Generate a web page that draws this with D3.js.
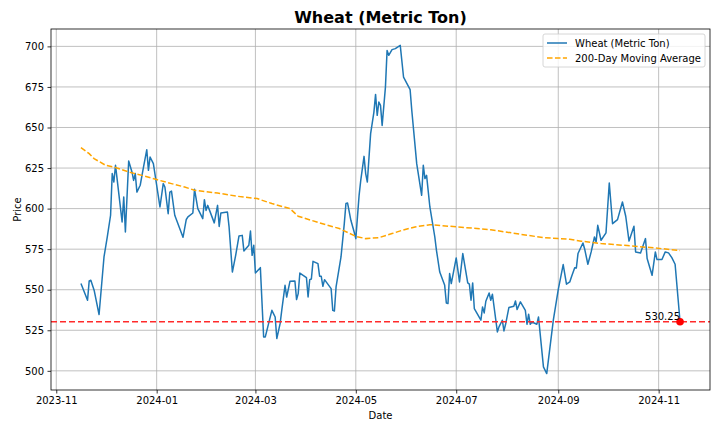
<!DOCTYPE html>
<html>
<head>
<meta charset="utf-8">
<script src="https://cdn.jsdelivr.net/npm/d3@7"></script>
<style>
    body { margin: 0; background: #fff; }
    text { font-family: "DejaVu Sans", sans-serif; }
    .grid line { stroke: #b0b0b0; stroke-width: 0.8; }
</style>
</head>
<body>
<div id="chart"></div>
<script>

// price series
const priceDates = [
    "2023-11-16","2023-11-20","2023-11-21","2023-11-22","2023-11-24","2023-11-27","2023-11-30","2023-12-02","2023-12-04","2023-12-05",
    "2023-12-06","2023-12-07","2023-12-11","2023-12-12","2023-12-13","2023-12-15","2023-12-17","2023-12-18","2023-12-19","2023-12-20",
    "2023-12-22","2023-12-24","2023-12-26","2023-12-27","2023-12-28","2023-12-30","2024-01-01","2024-01-03","2024-01-05","2024-01-06",
    "2024-01-08","2024-01-09","2024-01-10","2024-01-12","2024-01-17","2024-01-19","2024-01-20","2024-01-23","2024-01-24","2024-01-26",
    "2024-01-29","2024-01-30","2024-01-31","2024-02-01","2024-02-05","2024-02-07","2024-02-08","2024-02-09","2024-02-13","2024-02-14",
    "2024-02-16","2024-02-18","2024-02-20","2024-02-22","2024-02-23","2024-02-26","2024-02-27","2024-02-28","2024-02-29","2024-03-01",
    "2024-03-04","2024-03-06","2024-03-07","2024-03-09","2024-03-11","2024-03-13","2024-03-14","2024-03-16","2024-03-17","2024-03-19",
    "2024-03-20","2024-03-22","2024-03-25","2024-03-26","2024-03-27","2024-03-28","2024-04-01","2024-04-02","2024-04-03","2024-04-04",
    "2024-04-05","2024-04-08","2024-04-09","2024-04-10","2024-04-11","2024-04-12","2024-04-16","2024-04-17","2024-04-18","2024-04-19",
    "2024-04-22","2024-04-24","2024-04-25","2024-04-26","2024-04-28","2024-04-30","2024-05-01","2024-05-02","2024-05-03","2024-05-04",
    "2024-05-06","2024-05-07","2024-05-08","2024-05-10","2024-05-12","2024-05-13","2024-05-14","2024-05-15","2024-05-16","2024-05-17",
    "2024-05-19","2024-05-20","2024-05-21","2024-05-23","2024-05-25","2024-05-28","2024-05-30","2024-06-03","2024-06-04","2024-06-07",
    "2024-06-10","2024-06-11","2024-06-12","2024-06-13","2024-06-15","2024-06-18","2024-06-19","2024-06-21","2024-06-24","2024-06-25",
    "2024-06-26","2024-06-27","2024-06-28","2024-07-01","2024-07-03","2024-07-05","2024-07-08","2024-07-09","2024-07-10","2024-07-11",
    "2024-07-12","2024-07-16","2024-07-17","2024-07-18","2024-07-19","2024-07-21","2024-07-22","2024-07-23","2024-07-26","2024-07-27",
    "2024-07-29","2024-07-30","2024-07-31","2024-08-02","2024-08-05","2024-08-06","2024-08-07","2024-08-09","2024-08-12","2024-08-13",
    "2024-08-14","2024-08-15","2024-08-16","2024-08-19","2024-08-20","2024-08-23","2024-08-25","2024-08-27","2024-08-29","2024-09-01",
    "2024-09-04","2024-09-06","2024-09-08","2024-09-09","2024-09-11","2024-09-12","2024-09-13","2024-09-16","2024-09-17","2024-09-19",
    "2024-09-21","2024-09-23","2024-09-24","2024-09-25","2024-09-27","2024-09-30","2024-10-02","2024-10-04","2024-10-07","2024-10-10",
    "2024-10-12","2024-10-14","2024-10-17","2024-10-18","2024-10-21","2024-10-24","2024-10-25","2024-10-28","2024-10-30","2024-10-31",
    "2024-11-03","2024-11-05","2024-11-07","2024-11-09","2024-11-11","2024-11-14"
];
const priceValues = [
    553.8,543.5,555.4,555.8,549.7,534.7,570.2,582.5,595.9,621.6,
    616.4,626.7,591.8,607.2,585.6,629.3,622.6,617.4,621.6,610.2,
    614.4,625.6,636.3,623.6,631.8,627.7,614.4,601.0,615.4,613.3,
    596.9,610.2,610.8,595.9,582.3,593.3,594.9,597.3,612.0,600.0,
    593.8,605.5,598.9,602.0,591.2,602.0,589.0,597.3,597.9,588.7,
    560.9,571.2,583.1,583.5,573.9,577.4,586.2,571.2,577.4,560.3,
    563.6,520.9,520.9,529.1,537.3,533.2,519.9,529.1,537.3,552.7,
    545.5,555.2,555.4,543.9,547.6,560.3,557.5,545.5,556.2,556.6,
    567.5,566.1,558.3,558.3,552.1,556.2,550.7,537.3,536.9,551.7,
    570.2,590.7,603.1,603.4,592.8,585.6,581.5,594.9,608.2,617.4,
    632.2,621.6,616.4,646.2,659.5,670.4,657.5,665.7,663.6,651.3,
    674.9,697.5,694.5,698.0,698.6,700.6,681.1,673.3,660.6,627.7,
    608.2,626.7,618.5,620.5,601.0,582.5,574.3,560.9,552.7,541.8,
    541.5,560.0,553.8,569.6,554.8,572.3,554.2,553.4,543.5,554.2,
    538.4,531.2,539.4,535.7,542.9,548.0,543.5,547.2,524.0,527.1,
    531.2,524.6,528.7,539.0,539.8,543.1,537.8,542.5,537.3,528.7,
    534.9,528.7,530.1,528.7,533.2,502.4,498.3,514.8,531.2,550.0,
    565.5,553.4,554.8,557.9,563.6,563.4,572.3,578.8,575.3,565.7,
    573.3,582.5,579.4,589.7,580.5,585.0,615.8,590.7,593.2,604.1,
    595.3,580.0,589.1,573.3,572.7,581.5,569.2,558.9,573.3,568.6,
    568.6,573.3,572.7,569.8,565.7,530.25
];

// 200-day moving average
const maDates = [
    "2023-11-16","2023-11-21","2023-11-24","2023-12-01","2023-12-07","2023-12-15","2023-12-23","2024-01-01","2024-01-10","2024-01-18",
    "2024-01-24","2024-02-07","2024-02-19","2024-03-02","2024-03-11","2024-03-22","2024-03-27","2024-04-09","2024-04-21","2024-05-01",
    "2024-05-07","2024-05-15","2024-05-23","2024-05-29","2024-06-06","2024-06-15","2024-07-02","2024-07-22","2024-08-09","2024-08-23",
    "2024-09-01","2024-09-08","2024-09-15","2024-09-27","2024-10-13","2024-10-27","2024-11-14"
];
const maValues = [
    637.6,633.9,630.8,626.7,625.3,622.6,620.5,617.9,615.4,613.3,
    611.3,609.6,607.6,606.2,603.1,600.0,595.3,591.2,587.7,582.9,
    581.5,582.1,584.6,586.6,588.7,590.1,588.7,587.0,584.2,582.1,
    581.5,581.1,579.9,578.5,577.2,576.0,574.2
];

const yTicks = [500, 525, 550, 575, 600, 625, 650, 675, 700];
const lastPrice = 530.25;

class LineVis {

    constructor(parentElement) {
        this.parentElement = parentElement;
        this.parseDate = d3.timeParse("%Y-%m-%d");
        this.initVis();
    }

    initVis() {
        let vis = this;

        vis.margin = {top: 29, right: 10, bottom: 42, left: 51};
        vis.width = 720 - vis.margin.left - vis.margin.right;
        vis.height = 432 - vis.margin.top - vis.margin.bottom;

        vis.svgRoot = d3.select("#" + vis.parentElement).append("svg")
            .attr("width", 720)
            .attr("height", 432);

        vis.svg = vis.svgRoot.append("g")
            .attr("transform", `translate(${vis.margin.left}, ${vis.margin.top})`);

        vis.svg.append("clipPath")
            .attr("id", "plotClip")
            .append("rect")
            .attr("width", vis.width)
            .attr("height", vis.height);

        // title
        vis.svgRoot.append("text")
            .attr("x", vis.margin.left + vis.width / 2)
            .attr("y", 23)
            .attr("text-anchor", "middle")
            .attr("font-size", 16)
            .attr("font-weight", "bold")
            .text("Wheat (Metric Ton)");

        vis.wrangleData();
    }

    wrangleData() {
        let vis = this;

        vis.prices = priceDates.map((d, i) => ({date: vis.parseDate(d), value: priceValues[i]}));
        vis.ma = maDates.map((d, i) => ({date: vis.parseDate(d), value: maValues[i]}));

        vis.updateVis();
    }

    updateVis() {
        let vis = this;

        // matplotlib style 5% padding on both axes
        let xExt = d3.extent(vis.prices, d => d.date);
        let xPad = (xExt[1] - xExt[0]) * 0.05;
        vis.xScale = d3.scaleTime()
            .domain([new Date(+xExt[0] - xPad), new Date(+xExt[1] + xPad)])
            .range([0, vis.width]);

        let yExt = d3.extent(vis.prices.concat(vis.ma), d => d.value);
        let yPad = (yExt[1] - yExt[0]) * 0.05;
        vis.yScale = d3.scaleLinear()
            .domain([yExt[0] - yPad, yExt[1] + yPad])
            .range([vis.height, 0]);

        let xTicks = d3.timeMonth.every(2).range(vis.xScale.domain()[0], vis.xScale.domain()[1]);

        // grid
        vis.svg.append("g")
            .attr("class", "grid")
            .selectAll("line").data(xTicks).enter().append("line")
            .attr("x1", d => vis.xScale(d)).attr("x2", d => vis.xScale(d))
            .attr("y1", 0).attr("y2", vis.height);

        vis.svg.append("g")
            .attr("class", "grid")
            .selectAll("line").data(yTicks).enter().append("line")
            .attr("x1", 0).attr("x2", vis.width)
            .attr("y1", d => vis.yScale(d)).attr("y2", d => vis.yScale(d));

        // axes
        vis.xAxisGroup = vis.svg.append("g")
            .attr("class", "axis x-axis")
            .attr("transform", `translate(0, ${vis.height})`)
            .call(d3.axisBottom(vis.xScale)
                .tickValues(xTicks)
                .tickFormat(d3.timeFormat("%Y-%m"))
                .tickSize(3.5)
                .tickPadding(3.5)
                .tickSizeOuter(0));

        vis.yAxisGroup = vis.svg.append("g")
            .attr("class", "axis y-axis")
            .call(d3.axisLeft(vis.yScale)
                .tickValues(yTicks)
                .tickSize(3.5)
                .tickPadding(3.5)
                .tickSizeOuter(0));

        vis.svg.selectAll(".axis .domain").remove();
        vis.svg.selectAll(".axis line").attr("stroke", "#000").attr("stroke-width", 0.8);
        vis.svg.selectAll(".axis text")
            .attr("font-family", "DejaVu Sans")
            .attr("font-size", 10)
            .attr("fill", "#000");

        // axis labels
        vis.svg.append("text")
            .attr("x", vis.width / 2)
            .attr("y", vis.height + 29)
            .attr("text-anchor", "middle")
            .attr("font-size", 10)
            .text("Date");

        vis.svg.append("text")
            .attr("transform", `translate(${-30}, ${vis.height / 2}) rotate(-90)`)
            .attr("text-anchor", "middle")
            .attr("font-size", 10)
            .text("Price");

        let plotG = vis.svg.append("g").attr("clip-path", "url(#plotClip)");

        let line = d3.line()
            .x(d => vis.xScale(d.date))
            .y(d => vis.yScale(d.value));

        // price line
        plotG.append("path")
            .datum(vis.prices)
            .attr("fill", "none")
            .attr("stroke", "#1f77b4")
            .attr("stroke-width", 1.5)
            .attr("stroke-linejoin", "round")
            .attr("d", line);

        // moving average
        plotG.append("path")
            .datum(vis.ma)
            .attr("fill", "none")
            .attr("stroke", "orange")
            .attr("stroke-width", 1.5)
            .attr("stroke-dasharray", "5.55,2.4")
            .attr("d", line);

        // last price line
        plotG.append("line")
            .attr("x1", 0).attr("x2", vis.width)
            .attr("y1", vis.yScale(lastPrice)).attr("y2", vis.yScale(lastPrice))
            .attr("stroke", "#ff2a2a")
            .attr("stroke-width", 1.7)
            .attr("stroke-dasharray", "6,3");

        let last = vis.prices[vis.prices.length - 1];
        plotG.append("circle")
            .attr("cx", vis.xScale(last.date))
            .attr("cy", vis.yScale(last.value))
            .attr("r", 3.8)
            .attr("fill", "red");

        vis.svg.append("text")
            .attr("x", vis.xScale(last.date))
            .attr("y", vis.yScale(last.value) - 2)
            .attr("text-anchor", "end")
            .attr("font-size", 10)
            .text(d3.format(".2f")(lastPrice));

        // spines
        vis.svg.append("rect")
            .attr("width", vis.width)
            .attr("height", vis.height)
            .attr("fill", "none")
            .attr("stroke", "#000")
            .attr("stroke-width", 0.8);

        // legend
        let legendItems = [
            {label: "Wheat (Metric Ton)", color: "#1f77b4", dash: null},
            {label: "200-Day Moving Average", color: "orange", dash: "5.55,2.4"}
        ];

        vis.legendG = vis.svg.append("g")
            .attr("class", "legend")
            .attr("transform", `translate(${vis.width - 167}, 5)`);

        vis.legendG.append("rect")
            .attr("width", 162)
            .attr("height", 33)
            .attr("rx", 2)
            .attr("fill", "white")
            .attr("fill-opacity", 0.8)
            .attr("stroke", "#cccccc")
            .attr("stroke-width", 0.8);

        let rows = vis.legendG.selectAll(".row").data(legendItems).enter().append("g")
            .attr("class", "row")
            .attr("transform", (d, i) => `translate(0, ${9 + i * 15})`);

        rows.append("line")
            .attr("x1", 4).attr("x2", 24)
            .attr("stroke", d => d.color)
            .attr("stroke-width", 1.5)
            .attr("stroke-dasharray", d => d.dash);

        rows.append("text")
            .attr("x", 32)
            .attr("dy", "0.35em")
            .attr("font-size", 10)
            .text(d => d.label);
    }
}

let myLineVis = new LineVis("chart");

</script>
</body>
</html>
